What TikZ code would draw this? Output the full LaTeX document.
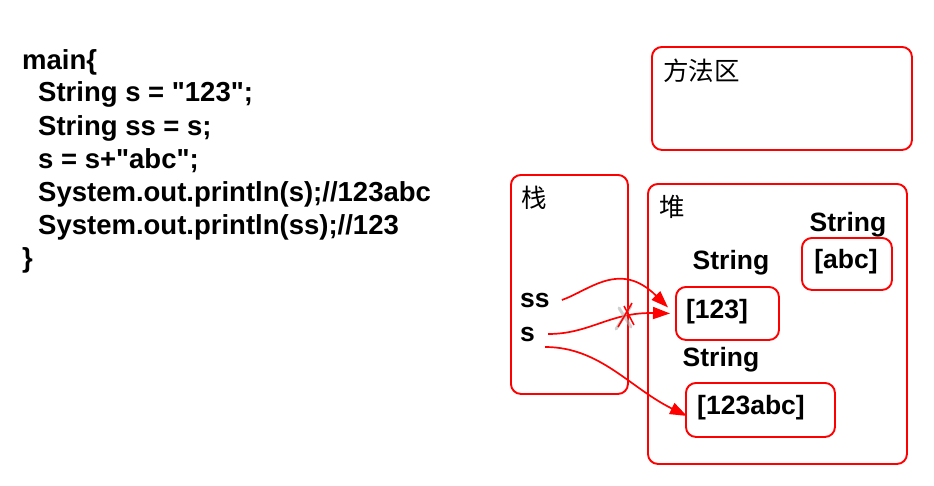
\documentclass[tikz,border=0pt]{standalone}
\usepackage{fontspec}
\setmainfont{Liberation Sans}
\newfontfamily\codefont{Liberation Sans}
\newfontfamily\cjk{Noto Sans CJK SC}
\usetikzlibrary{arrows.meta}
\tikzset{
  box/.style={draw=red, line width=1.9pt, rounded corners=10pt, inner sep=0pt, anchor=north west},
  code/.style={anchor=base west, inner sep=0pt, font=\fontsize{27.5}{33}\selectfont\codefont\bfseries},
  lbl/.style={inner sep=0pt, font=\fontsize{26.5}{30}\selectfont\bfseries},
  cn/.style={inner sep=0pt, anchor=west, font=\fontsize{25.5}{28}\selectfont\cjk},
  ref/.style={draw=red, line width=1.7pt, -{Triangle[length=17pt,width=12pt]}},
}
\begin{document}
\begin{tikzpicture}[x=1pt,y=-1pt]
\useasboundingbox (0,0) rectangle (934,485);
\fill[white] (0,0) rectangle (934,485);
% code
\node[code] (l1) at (22,69) {main\{};
\node[code] (l2) at (38,101.5) {String s = "123";};
\node[code] (l3) at (38,135) {String ss = s;};
\node[code] (l4) at (38,168) {s = s+"abc";};
\node[code] (l5) at (38,201) {System.out.println(s);//123abc};
\node[code] (l6) at (38,234) {System.out.println(ss);//123};
\node[code] (l7) at (22,267) {\}};
% areas
\node[box, minimum width=260pt, minimum height=103pt] (method) at (651,46) {};
\node[cn] (methodl) at (663,71) {方法区};
\node[box, minimum width=117pt, minimum height=219pt] (stack) at (510,174) {};
\node[cn] (stackl) at (521,198) {栈};
\node[box, minimum width=259pt, minimum height=280pt] (heap) at (647,183) {};
\node[cn] (heapl) at (659,207) {堆};
% objects
\node[box, minimum width=90pt, minimum height=52pt] (babc) at (801,237) {};
\node[lbl] at (846,262) {[abc]};
\node[lbl] (sabc) at (848,225) {String};
\node[box, minimum width=103pt, minimum height=53pt] (b123) at (675,286) {};
\node[lbl] (t123) at (717,312) {[123]};
\node[lbl] (s123) at (731,263) {String};
\node[box, minimum width=149pt, minimum height=54pt] (b123abc) at (685,382) {};
\node[lbl] (t123abc) at (751,408) {[123abc]};
\node[lbl] (s123abc) at (721,360) {String};
% variables
\node[lbl, anchor=west] (vss) at (520,300) {ss};
\node[lbl, anchor=west] (vs) at (520,334) {s};
% references
\coordinate (ssstart) at ([xshift=12pt]vss.east);
\coordinate (sstart) at ([xshift=13pt]vs.east);
\coordinate (s2start) at ([xshift=10pt,yshift=-13pt]vs.east);
\draw[ref] (ssstart) .. controls (590,290) and (620,260) .. ([xshift=-7pt,yshift=6pt]b123.west);
\draw[ref] (sstart) .. controls (590,334) and (610,312) .. ([xshift=-5pt]b123.west);
\draw[ref] (s2start) .. controls (600,347) and (630,388) .. ([xshift=2pt,yshift=-6pt]b123abc.west);
% cross
\coordinate (xc) at (627,315);
\draw[gray!60, opacity=0.6, line width=3pt, line cap=round] ([xshift=-2pt,yshift=-2pt]xc) +(-6,-9) -- +(6,10);
\draw[gray!60, opacity=0.6, line width=3pt, line cap=round] ([xshift=-2pt,yshift=-2pt]xc) +(6,-11) -- +(-9,12);
\draw[red, line width=1.5pt] (xc) +(-3,-9) -- +(7,10);
\draw[red, line width=1.5pt] (xc) +(5,-12) -- +(-9,12);
\end{tikzpicture}
\end{document}
